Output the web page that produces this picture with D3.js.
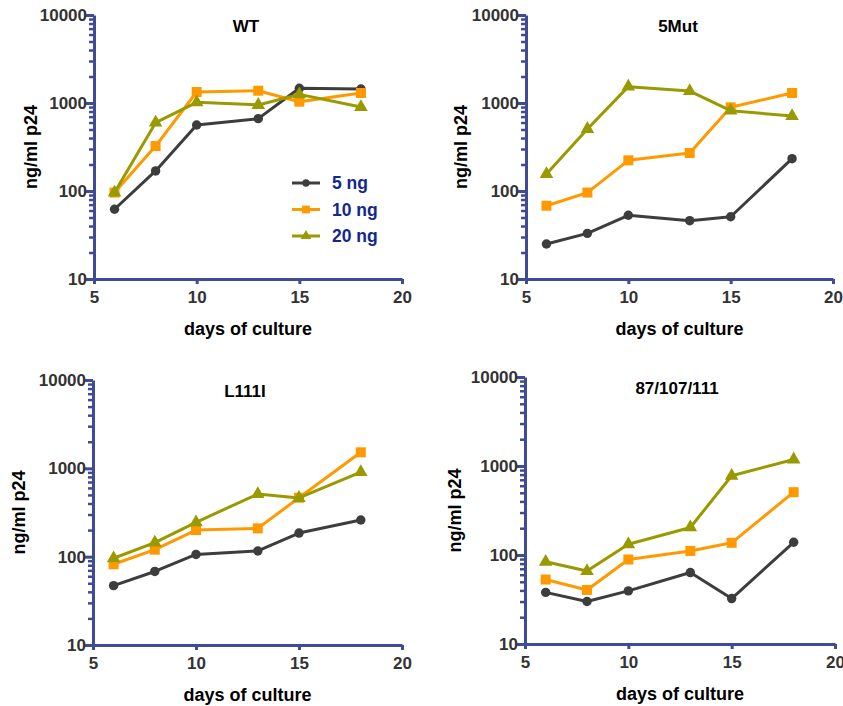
<!DOCTYPE html>
<html>
<head>
<meta charset="utf-8">
<script src="https://cdn.jsdelivr.net/npm/d3@7"></script>
<style>
    body { margin: 0; background: #fff; }
    svg text { font-family: "Liberation Sans", Arial, sans-serif; font-weight: bold; }
</style>
</head>
<body>
<div id="chart"></div>
<script>
//  Define width and height
var chart_width     =   843;
var chart_height    =   706;

// Data
var days            =   [ 6, 8, 10, 13, 15, 18 ];
var doses           =   [ "5 ng", "10 ng", "20 ng" ];
var panel_titles    =   [ "WT", "5Mut", "L111I", "87/107/111" ];

var wt_5ng          =   [ 62, 169, 562, 664, 1468, 1443 ];
var wt_10ng         =   [ 96, 324, 1334, 1380, 1035, 1300 ];
var wt_20ng         =   [ 96, 598, 1017, 950, 1254, 900 ];

var mut5_5ng        =   [ 25, 33, 53, 46, 51, 233 ];
var mut5_10ng       =   [ 68, 96, 223, 270, 893, 1300 ];
var mut5_20ng       =   [ 156, 507, 1534, 1368, 818, 712 ];

var l111i_5ng       =   [ 47, 68, 106, 116, 185, 260 ];
var l111i_10ng      =   [ 82, 120, 200, 209, 465, 1518 ];
var l111i_20ng      =   [ 96, 144, 245, 512, 462, 908 ];

var triple_5ng      =   [ 38, 30, 39.5, 63.5, 32.4, 139 ];
var triple_10ng     =   [ 53, 40.5, 89, 111, 137, 508 ];
var triple_20ng     =   [ 84, 66, 132, 204, 776, 1184 ];

var x_ticks         =   [ 5, 10, 15, 20 ];
var y_ticks         =   [ 10, 100, 1000, 10000 ];

// Styles
var series_colors   =   [ "#3d3d3d", "#ff9900", "#999900" ];
var series_symbols  =   [ d3.symbolCircle, d3.symbolSquare, d3.symbolTriangle ];
var symbol_sizes    =   [ 70, 100, 80 ];
var axis_color      =   "#3f4b95";

// Panel layout (axis box in page pixels)
var panels          =   [
    { title: panel_titles[0], data: [ wt_5ng, wt_10ng, wt_20ng ],             x0: 94,  x1: 402, y0: 15,  y1: 279, ylab: 63, legend: true },
    { title: panel_titles[1], data: [ mut5_5ng, mut5_10ng, mut5_20ng ],       x0: 526, x1: 833, y0: 15,  y1: 279, ylab: 65 },
    { title: panel_titles[2], data: [ l111i_5ng, l111i_10ng, l111i_20ng ],    x0: 93,  x1: 402, y0: 380, y1: 645, ylab: 74 },
    { title: panel_titles[3], data: [ triple_5ng, triple_10ng, triple_20ng ], x0: 525, x1: 835, y0: 377, y1: 644, ylab: 70 }
];

// Create SVG
var svg             =   d3.select("#chart")
    .append("svg")
    .attr("width", chart_width)
    .attr("height", chart_height);

panels.forEach(function(p){
    var x = d3.scaleLinear().domain([ 5, 20 ]).range([ p.x0, p.x1 ]);
    var y = d3.scaleLog().domain([ 10, 10000 ]).range([ p.y1, p.y0 ]);

    var g = svg.append("g");

    // minor log ticks
    var minor = [];
    y_ticks.slice(0, 3).forEach(function(d){
        for (var k = 2; k <= 9; k++) minor.push(d * k);
    });

    g.append("g")
        .attr("transform", "translate(" + p.x0 + ",0)")
        .call(d3.axisLeft(y).tickValues(minor).tickSize(5).tickFormat(""))
        .call(function(a){ a.select(".domain").remove(); })
        .selectAll("line")
        .attr("stroke", axis_color)
        .attr("stroke-width", 2.5);

    // y axis
    var ya = g.append("g")
        .attr("transform", "translate(" + p.x0 + ",0)")
        .call(d3.axisLeft(y).tickValues(y_ticks).tickSize(8).tickSizeOuter(0).tickFormat(d3.format("d")));
    ya.select(".domain").attr("stroke", axis_color).attr("stroke-width", 3);
    ya.selectAll(".tick line").attr("stroke", axis_color).attr("stroke-width", 3);
    ya.selectAll(".tick text")
        .attr("x", -7)
        .attr("fill", "#333")
        .style("font-size", "17px");

    // x axis
    var xa = g.append("g")
        .attr("transform", "translate(0," + p.y1 + ")")
        .call(d3.axisBottom(x).tickValues(x_ticks).tickSize(5).tickSizeOuter(0));
    xa.select(".domain").attr("stroke", axis_color).attr("stroke-width", 3);
    xa.selectAll(".tick line").attr("stroke", axis_color).attr("stroke-width", 3);
    xa.selectAll(".tick text")
        .attr("y", 12)
        .attr("fill", "#333")
        .style("font-size", "17px");

    // title
    g.append("text")
        .attr("x", p.x0 + 152)
        .attr("y", p.y0 + 17)
        .attr("text-anchor", "middle")
        .style("font-size", "17px")
        .attr("fill", "#000")
        .text(p.title);

    // axis labels
    g.append("text")
        .attr("x", (p.x0 + p.x1) / 2)
        .attr("y", p.y1 + 56)
        .attr("text-anchor", "middle")
        .style("font-size", "18px")
        .attr("fill", "#000")
        .text("days of culture");

    g.append("text")
        .attr("transform", "translate(" + (p.x0 - p.ylab) + "," + ((p.y0 + p.y1) / 2) + ") rotate(-90)")
        .attr("text-anchor", "middle")
        .attr("dy", "0.35em")
        .style("font-size", "18px")
        .attr("fill", "#000")
        .text("ng/ml p24");

    // series
    var line = d3.line()
        .x(function(d, i){ return x(days[i]); })
        .y(function(d){ return y(d); });

    p.data.forEach(function(vals, s){
        g.append("path")
            .datum(vals)
            .attr("fill", "none")
            .attr("stroke", series_colors[s])
            .attr("stroke-width", 3)
            .attr("stroke-linejoin", "round")
            .attr("d", line);

        g.selectAll(".pt" + s)
            .data(vals)
            .enter()
            .append("path")
            .attr("class", "pt" + s)
            .attr("d", d3.symbol().type(series_symbols[s]).size(symbol_sizes[s]))
            .attr("transform", function(d, i){ return "translate(" + x(days[i]) + "," + y(d) + ")"; })
            .attr("fill", series_colors[s]);
    });

    // Legend
    if (p.legend) {
        var lg = g.append("g")
            .attr("transform", "translate(" + (p.x0 + 198) + "," + (p.y0 + 168) + ")");
        doses.forEach(function(name, s){
            var row = lg.append("g").attr("transform", "translate(0," + (s * 26.5) + ")");
            row.append("line")
                .attr("x1", 0).attr("x2", 28)
                .attr("stroke", series_colors[s])
                .attr("stroke-width", 3);
            row.append("path")
                .attr("d", d3.symbol().type(series_symbols[s]).size(symbol_sizes[s] * 0.6))
                .attr("transform", "translate(14,0)")
                .attr("fill", series_colors[s]);
            row.append("text")
                .attr("x", 40)
                .attr("dy", "0.35em")
                .style("font-size", "17.5px")
                .attr("fill", "#132790")
                .text(name);
        });
    }
});
</script>
</body>
</html>
